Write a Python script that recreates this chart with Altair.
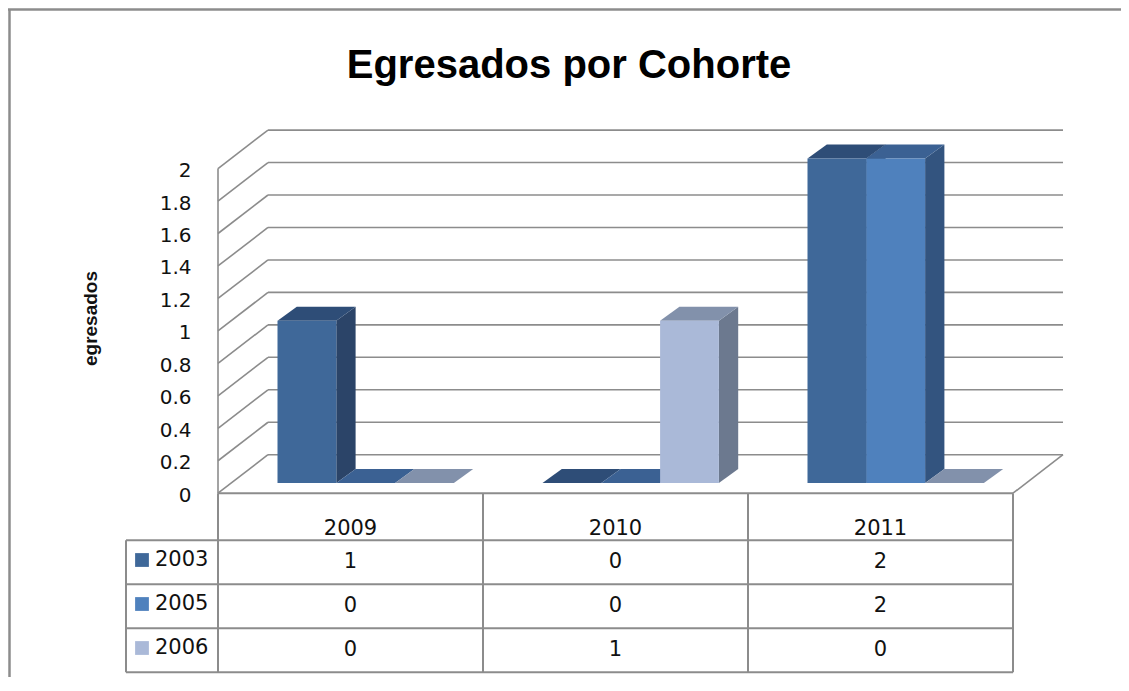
import altair as alt
import pandas as pd

# ---------------- data ----------------
categories = ["2009", "2010", "2011"]
series = ["2003", "2005", "2006"]
values_2003 = [1, 0, 2]
values_2005 = [0, 0, 2]
values_2006 = [0, 1, 0]
y_ticks = [0, 0.2, 0.4, 0.6, 0.8, 1, 1.2, 1.4, 1.6, 1.8, 2]

title_text = "Egresados por Cohorte"
y_title = "egresados"

front_colors = ["#3F6899", "#4F81BD", "#AAB9D8"]
top_colors = ["#2E4D77", "#3B6193", "#8291AB"]
side_colors = ["#2B4468", "#33547F", "#6C798F"]
line_color = "#8C8C8C"

series_values = [values_2003, values_2005, values_2006]

# ---------------- geometry (in data units) ----------------
W, H = 848, 547
X_DOMAIN = [0, 3.2]
Y_DOMAIN = [-1.12, 2.25]
KX = W / (X_DOMAIN[1] - X_DOMAIN[0])
KY = H / (Y_DOMAIN[1] - Y_DOMAIN[0])

DEPTH_X = 50 / KX
DEPTH_Y = 38.5 / KY
BAR_OFF = 59.5 / KX
BAR_W = 58.8 / KX
BAR_BASE = 10.2 / KY
BAR_DX = 19.3 / KX
BAR_DY = 14 / KY
HEADER_H = 47 / KY
ROW_H = 44 / KY
LEFT_COL = -92 / KX

n = len(categories)
xs = alt.Scale(domain=X_DOMAIN, nice=False, zero=False)
ys = alt.Scale(domain=Y_DOMAIN, nice=False, zero=False)

YAXIS = alt.Axis(values=y_ticks, format="~g", ticks=False, domain=False,
                 grid=False, labelFont="DejaVu Sans", labelFontSize=20,
                 labelColor="#111111", labelPadding=27, labelOffset=2,
                 title=y_title,
                 titleFont="Liberation Sans", titleFontSize=19,
                 titleFontWeight="bold", titleColor="#111111",
                 titleAngle=270, titleX=-128, titleY=190,
                 titleAlign="center", titleBaseline="middle")


def X(f, **kw):
    return alt.X(f, type="quantitative", scale=xs, axis=None, title=None, **kw)


def Y(f, **kw):
    return alt.Y(f, type="quantitative", scale=ys, axis=YAXIS, title=y_title, **kw)


# ---------------- faces of the 3D bars ----------------
fronts, sides, tops = [], [], []
for j, (s, vals) in enumerate(zip(series, series_values)):
    for i, (c, v) in enumerate(zip(categories, vals)):
        x0 = i + BAR_OFF + j * BAR_W
        x1 = x0 + BAR_W
        yb = BAR_BASE
        yt = BAR_BASE + v
        fid = f"{s}-{c}"
        if v > 0:
            fronts.append(dict(series=s, category=c, value=v, x=x0, x2=x1,
                               y=yb, y2=yt, color=front_colors[j]))
            sides += [
                dict(face=fid, x=x1, y=yb, y2=yt, color=side_colors[j]),
                dict(face=fid, x=x1 + BAR_DX, y=yb + BAR_DY, y2=yt + BAR_DY,
                     color=side_colors[j]),
            ]
        tops += [
            dict(face=fid, y=yt, x=x0, x2=x1, color=top_colors[j]),
            dict(face=fid, y=yt + BAR_DY, x=x0 + BAR_DX, x2=x1 + BAR_DX,
                 color=top_colors[j]),
        ]

# ---------------- walls / gridlines ----------------
grid = []
for v in y_ticks:
    grid.append(dict(x=0, y=v, x2=DEPTH_X, y2=v + DEPTH_Y))
    grid.append(dict(x=DEPTH_X, y=v + DEPTH_Y, x2=n + DEPTH_X, y2=v + DEPTH_Y))
grid.append(dict(x=0, y=0, x2=0, y2=y_ticks[-1]))
grid.append(dict(x=n, y=0, x2=n + DEPTH_X, y2=DEPTH_Y))

# ---------------- data table ----------------
row_bottoms = [-HEADER_H - ROW_H * (k + 1) for k in range(len(series))]
tbl = [dict(x=0, y=0, x2=n, y2=0),
       dict(x=LEFT_COL, y=-HEADER_H, x2=n, y2=-HEADER_H)]
for yb in row_bottoms:
    tbl.append(dict(x=LEFT_COL, y=yb, x2=n, y2=yb))
for i in range(n + 1):
    tbl.append(dict(x=i, y=0, x2=i, y2=row_bottoms[-1]))
tbl.append(dict(x=LEFT_COL, y=-HEADER_H, x2=LEFT_COL, y2=row_bottoms[-1]))

header_txt = [dict(x=i + 0.5, y=-HEADER_H * 0.76, t=c) for i, c in enumerate(categories)]
cell_txt = []
for j, vals in enumerate(series_values):
    for i, v in enumerate(vals):
        cell_txt.append(dict(x=i + 0.5, y=-HEADER_H - ROW_H * (j + 0.5), t=str(v)))
series_txt = [dict(x=LEFT_COL + 29 / KX, y=-HEADER_H - ROW_H * (j + 0.45), t=s)
              for j, s in enumerate(series)]
squares = [dict(x=LEFT_COL + 16 / KX, y=-HEADER_H - ROW_H * (j + 0.45),
                s=s, color=front_colors[j]) for j, s in enumerate(series)]

# ---------------- layers ----------------
grid_layer = alt.Chart(pd.DataFrame(grid)).mark_rule(
    color=line_color, strokeWidth=1.6).encode(
    x=X("x"), x2="x2", y=Y("y"), y2="y2")

border = alt.Chart(pd.DataFrame({"k": [0]}))
border_left = border.mark_rule(color=line_color, strokeWidth=2.5).encode(
    x=alt.value(9.5 - 218), y=alt.value(9 - 128), y2=alt.value(H + 20))
border_top = border.mark_rule(color=line_color, strokeWidth=2.5).encode(
    x=alt.value(8 - 218), x2=alt.value(1129 - 218), y=alt.value(9.5 - 128))

table_layer = alt.Chart(pd.DataFrame(tbl)).mark_rule(
    color=line_color, strokeWidth=2).encode(
    x=X("x"), x2="x2", y=Y("y"), y2="y2")

side_layer = alt.Chart(pd.DataFrame(sides)).mark_area(orient="vertical").encode(
    x=X("x"), y=Y("y", stack=None),
    y2="y2", detail="face:N", color=alt.Color("color:N", scale=None))

top_layer = alt.Chart(pd.DataFrame(tops)).mark_area(orient="horizontal").encode(
    y=Y("y"), x=X("x", stack=None),
    x2="x2", detail="face:N", color=alt.Color("color:N", scale=None))

front_layer = alt.Chart(pd.DataFrame(fronts)).mark_rect().encode(
    x=X("x"), x2="x2", y=Y("y"), y2="y2",
    color=alt.Color("color:N", scale=None),
    tooltip=["series:N", "category:N", "value:Q"])

text_style = dict(font="DejaVu Sans", fontSize=21, color="#111111", baseline="middle")
header_layer = alt.Chart(pd.DataFrame(header_txt)).mark_text(align="center", **text_style).encode(
    x=X("x"), y=Y("y"), text="t:N")
cell_layer = alt.Chart(pd.DataFrame(cell_txt)).mark_text(align="center", **text_style).encode(
    x=X("x"), y=Y("y"), text="t:N")
series_layer = alt.Chart(pd.DataFrame(series_txt)).mark_text(align="left", **text_style).encode(
    x=X("x"), y=Y("y"), text="t:N")
square_layer = alt.Chart(pd.DataFrame(squares)).mark_square(size=190, opacity=1, filled=True).encode(
    x=X("x"), y=Y("y"), color=alt.Color("color:N", scale=None))

chart = alt.layer(
    grid_layer, border_left, border_top, table_layer, side_layer, top_layer,
    front_layer, header_layer, cell_layer, series_layer, square_layer,
).properties(
    width=W, height=H,
    title=alt.TitleParams(text=title_text, font="Liberation Sans", fontSize=40,
                          fontWeight="bold", color="#000000", anchor="middle",
                          frame="group", baseline="alphabetic", offset=0,
                          dx=-73, dy=110),
    autosize=alt.AutoSizeParams(type="none"),
    padding={"left": 210, "top": 120, "right": 55, "bottom": 2},
    background="white",
).configure_view(stroke=None)

chart.save("out.html", embed_options={"renderer": "svg", "actions": False})
